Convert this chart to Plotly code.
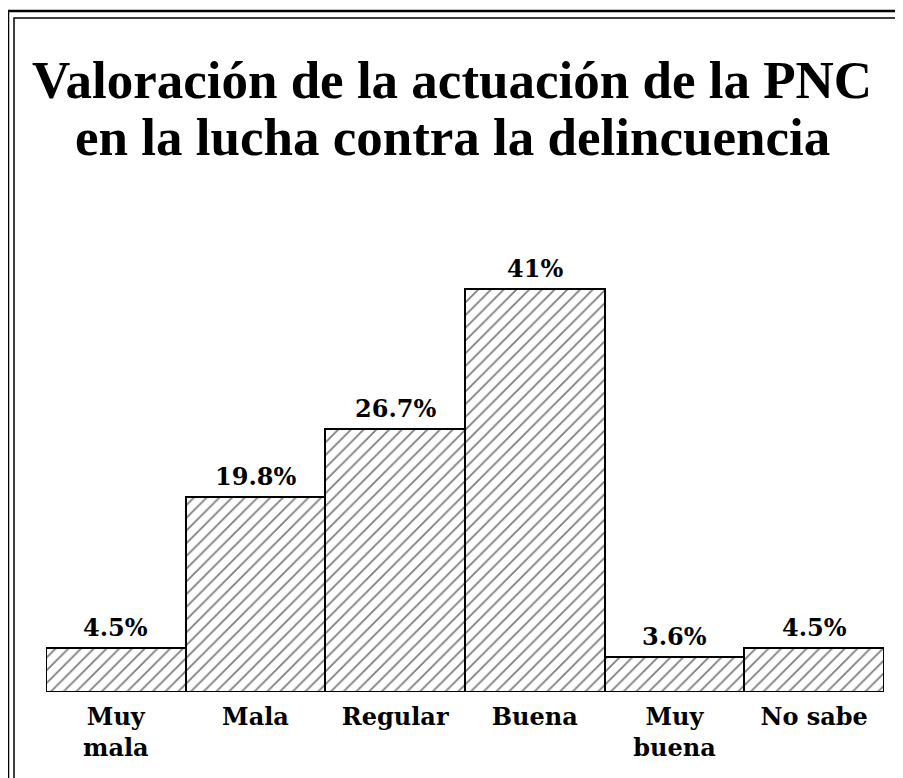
import plotly.graph_objects as go

# Datos
categorias = ["Muy<br>mala", "Mala", "Regular", "Buena", "Muy<br>buena", "No sabe"]
porcentajes = [4.5, 19.8, 26.7, 41.0, 3.6, 4.5]
etiquetas = ["4.5%", "19.8%", "26.7%", "41%", "3.6%", "4.5%"]

titulo_1 = "Valoración de la actuación de la PNC"
titulo_2 = "en la lucha contra la delincuencia"

# the page puts the figure 8px in from the top-left corner
OFF = 8
W, H = 903 - OFF, 778 - OFF
M_L, M_R, M_T, M_B = 46 - OFF, 19, 200 - OFF, 86
PLOT_W = W - M_L - M_R
PLOT_H = H - M_T - M_B


def px_x(px):
    # screen pixel -> paper x
    return (px - OFF - M_L) / PLOT_W


def px_y(py):
    # screen pixel -> paper y
    return (H - M_B - (py - OFF)) / PLOT_H


fig = go.Figure()

fig.add_trace(go.Bar(
    x=categorias,
    y=porcentajes,
    marker=dict(
        color="white",
        line=dict(color="black", width=2),
        pattern=dict(shape="/", fgcolor="black", bgcolor="white", size=9, solidity=0.2),
    ),
    hoverinfo="skip",
))

# Valores sobre las barras
for cat, val, txt in zip(categorias, porcentajes, etiquetas):
    fig.add_annotation(
        x=cat, y=val, text=txt, showarrow=False,
        xanchor="center", yanchor="bottom", yshift=4,
        font=dict(family="DejaVu Serif", size=24, color="black", weight="bold"),
    )

# Marco doble
for x0, y0, w in [(8, 11, 2.5), (14, 18, 1.5)]:
    fig.add_shape(
        type="rect", xref="paper", yref="paper",
        x0=px_x(x0), y0=px_y(H + 40), x1=px_x(W + 40), y1=px_y(y0),
        line=dict(color="black", width=w), fillcolor="rgba(0,0,0,0)",
    )

# Título en dos líneas
for texto, py in [(titulo_1, 80), (titulo_2, 137)]:
    fig.add_annotation(
        text=texto, xref="paper", yref="paper",
        x=px_x(452), y=px_y(py), xanchor="center", yanchor="middle",
        showarrow=False,
        font=dict(family="Liberation Serif", size=53, color="black", weight="bold"),
    )

fig.update_layout(
    width=W, height=H,
    margin=dict(l=M_L, r=M_R, t=M_T, b=M_B),
    paper_bgcolor="white",
    plot_bgcolor="white",
    bargap=0,
    showlegend=False,
    xaxis=dict(
        showgrid=False, zeroline=False, showline=False,
        ticks="", ticklabelstandoff=8,
        tickfont=dict(family="DejaVu Serif", size=24, color="black", weight="bold"),
    ),
    yaxis=dict(range=[0, 50], visible=False, showgrid=False, zeroline=False),
)

fig.write_html("out.html")
